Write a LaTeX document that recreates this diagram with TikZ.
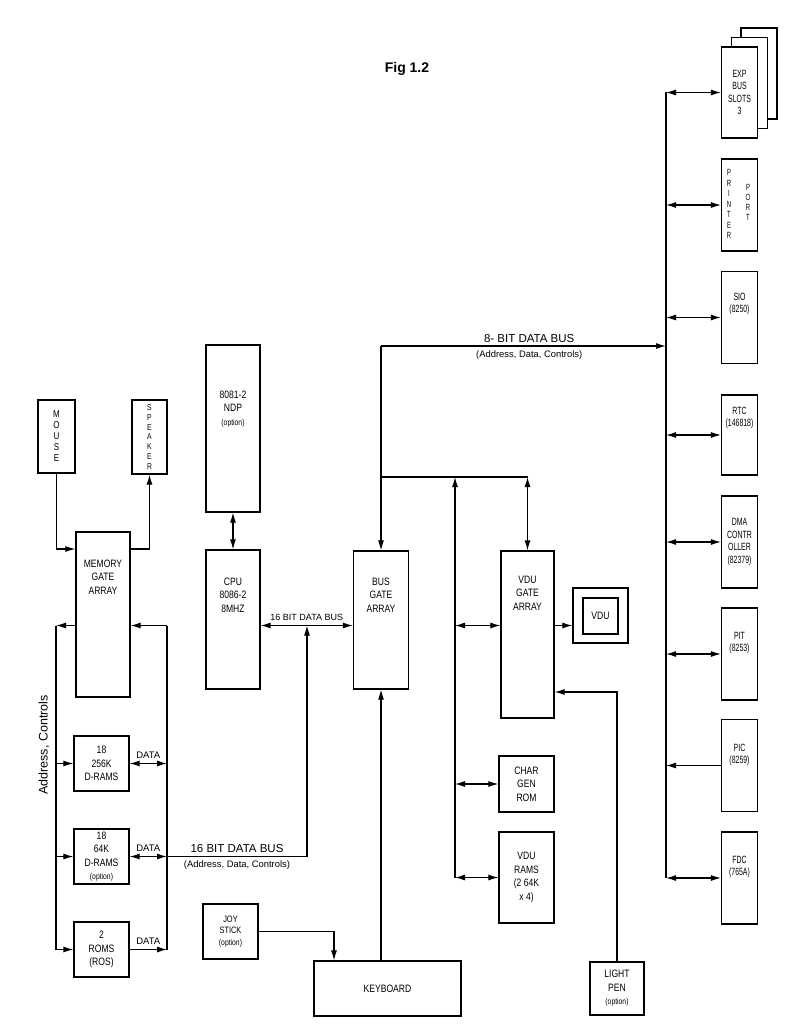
\documentclass[tikz,border=0pt]{standalone}
\usepackage{fontspec}
\setmainfont{Liberation Sans}
\newfontfamily\cnd{Liberation Sans}[FakeStretch=0.8]
\newfontfamily\cndn{Liberation Sans}[FakeStretch=0.66]
\newcommand{\optf}{\fontsize{8.5}{10}\selectfont}
\usetikzlibrary{arrows.meta,positioning}
\begin{document}
\begin{tikzpicture}[x=1pt,y=-1pt,line width=1.1pt,>={Latex[length=10pt,width=6pt]},
  box/.style 2 args={draw,line width=1.3pt,inner sep=0pt,minimum width=#1pt,minimum height=#2pt,align=center,font=\cnd\fontsize{10.7}{13.5}\selectfont},
  rbox/.style={box={36}{92},font=\cndn\fontsize{10.5}{12.5}\selectfont},
  txt/.style={align=center,inner sep=0pt,font=\cnd\fontsize{10.7}{13.5}\selectfont},
  rtxt/.style={align=center,inner sep=0pt,font=\cndn\fontsize{10.5}{12.5}\selectfont},
  busl/.style={inner sep=0pt,font=\fontsize{11.5}{13}\selectfont},
  subl/.style={inner sep=0pt,font=\fontsize{9.4}{11}\selectfont},
  dat/.style={inner sep=0pt,font=\fontsize{9.5}{11}\selectfont}]
\fill[white] (0,0) rectangle (800,1027);
\node[font=\bfseries\fontsize{14}{16}\selectfont] (title) at (407,69) {Fig 1.2};
% memory side
\node[box={37}{73},font=\cnd\fontsize{10}{11}\selectfont] (mouse) at (56.5,436.5) {M\\O\\U\\S\\E};
\node[box={35}{74},font=\cnd\fontsize{8.5}{9.7}\selectfont] (speaker) at (149.5,437) {S\\P\\E\\A\\K\\E\\R};
\node[box={54}{165}] (mga) at (103,614.5) {};
\node[txt] (mga-t) at (103,577) {MEMORY\\GATE\\ARRAY};
\node[box={55}{55}] (d256) at (101.5,763.5) {18\\256K\\D-RAMS};
\node[box={55}{55}] (d64) at (101.5,856.5) {18\\64K\\D-RAMS\\{\optf (option)}};
\node[box={55}{55}] (roms) at (101.5,949.5) {2\\ROMS\\(ROS)};
\node[rotate=90,font=\fontsize{12.5}{14}\selectfont] (addr) at (44,745) {Address, Controls};
% cpu and gate arrays
\node[box={54}{167}] (ndp) at (233,428.5) {};
\node[txt] (ndp-t) at (233,409) {8081-2\\NDP\\{\optf (option)}};
\node[box={54}{139}] (cpu) at (233,619.5) {};
\node[txt] (cpu-t) at (233,595) {CPU\\8086-2\\8MHZ};
\node[box={55}{138}] (bga) at (381,620) {};
\node[txt] (bga-t) at (381,595) {BUS\\GATE\\ARRAY};
\node[box={53}{167}] (vga) at (527.5,634.5) {};
\node[txt] (vga-t) at (527.5,593) {VDU\\GATE\\ARRAY};
\node[box={55}{55}] (vdu) at (600.5,615.5) {};
\node[box={35}{36}] (vdu-s) at (600.5,616) {VDU};
\node[box={55}{56}] (cgr) at (526.5,784) {CHAR\\GEN\\ROM};
\node[box={55}{91}] (vram) at (526.5,877.5) {VDU\\RAMS\\(2 64K\\x 4)};
\node[box={147}{55}] (kbd) at (387.5,988.5) {KEYBOARD};
\node[box={55}{55},font=\cnd\fontsize{9.3}{11.5}\selectfont] (joy) at (230.5,931.5) {JOY\\STICK\\{\optf (option)}};
\node[box={54}{53}] (lpen) at (617,988.5) {LIGHT\\PEN\\{\optf (option)}};
% i/o column
\node[box={36}{91},fill=white] (exp3) at (759,73.5) {};
\node[box={36}{91},fill=white] (exp2) at (749.5,83) {};
\node[rbox,minimum height=91pt,fill=white] (exp) at (739.5,92.5) {EXP\\BUS\\SLOTS\\3};
\node[rbox] (prn) at (739.5,205) {};
\node[rtxt,font=\cndn\fontsize{9}{10.5}\selectfont] (prn-a) at (729,204) {P\\R\\I\\N\\T\\E\\R};
\node[rtxt,font=\cndn\fontsize{9}{10}\selectfont] (prn-b) at (748,202) {P\\O\\R\\T};
\node[rbox] (sio) at (739.5,317.5) {};
\node[rtxt] (sio-t) at (739.5,304) {SIO\\(8250)};
\node[rbox,minimum height=80pt] (rtc) at (739.5,435) {};
\node[rtxt] (rtc-t) at (739.5,418) {RTC\\(146818)};
\node[rbox] (dma) at (739.5,542) {DMA\\CONTR\\OLLER\\(82379)};
\node[rbox] (pit) at (739.5,654) {};
\node[rtxt] (pit-t) at (739.5,643) {PIT\\(8253)};
\node[rbox] (pic) at (739.5,765.5) {};
\node[rtxt] (pic-t) at (739.5,755) {PIC\\(8259)};
\node[rbox] (fdc) at (739.5,878) {};
\node[rtxt] (fdc-t) at (739.5,867) {FDC\\(765A)};
% bus lines
\coordinate (rb) at (666,0);
\coordinate (row) at (0,625.5);
\coordinate (b8) at (381,346);
\coordinate (jn) at (381,477);
\coordinate (vb) at (455,477);
\coordinate (cb) at (307,0);
\coordinate (jk) at (334,0);
\coordinate (lp) at (0,692);
\coordinate (ml) at (56,0);
\coordinate (mr) at (167,0);
\coordinate (mrw) at (0,549);
\draw (rb |- exp) -- (rb |- fdc);
\foreach \n in {exp,prn,sio,rtc,dma,pit,fdc} \draw[<->] (rb |- \n) -- (\n.west);
\draw[->] (pic.west) -- (rb |- pic);
\draw[->] (b8) -- (rb |- b8) node[pos=0.52,above=3pt,busl] (b8-l) {8- BIT DATA BUS} node[pos=0.52,below=4pt,subl] (b8-s) {(Address, Data, Controls)};
\draw[->] (b8) -- (bga.north);
\draw (jn) -- (jn -| vga.north);
\draw[<->] (jn -| vga.north) -- (vga.north);
\draw[->] (vb |- vram) -- (vb);
\draw[<->] (vb |- row) -- (vga.west |- row);
\draw[->] (vga.east |- row) -- (vdu.west |- row);
\draw[<->] (vb |- cgr) -- (cgr.west);
\draw[<->] (vb |- vram) -- (vram.west);
\draw[->] (lpen.north) |- (vga.east |- lp);
\draw[<->] (ndp.south) -- (cpu.north);
\draw[<->] (cpu.east |- row) -- (bga.west |- row) node[midway,above=4pt,inner sep=0pt,font=\fontsize{9}{11}\selectfont] (c16-l) {16 BIT DATA BUS};
\draw[->] (mr |- d64) -- (cb |- d64) node[midway,above=3pt,busl] (m16-l) {16 BIT DATA BUS} node[midway,below=4pt,subl] (m16-s) {(Address, Data, Controls)} -- (cb |- row);
\draw[->] (bga.south |- kbd.north) -- (bga.south);
\draw[->] (joy.east) -| (jk |- kbd.north);
% memory buses
\draw[->] (mouse.south) |- (mga.west |- mrw);
\draw[->] (mga.east |- mrw) -| (speaker.south);
\draw[->] (mga.west |- row) -- (ml |- row);
\draw (ml |- row) -- (ml |- roms);
\draw[->] (mr |- row) -- (mga.east |- row);
\draw (mr |- row) -- (mr |- roms);
\foreach \n in {d256,d64,roms} \draw[->] (ml |- \n) -- (\n.west);
\draw[<->] (d256.east) -- (mr |- d256) node[midway,above=4pt,dat] {DATA};
\draw[<->] (d64.east) -- (mr |- d64) node[midway,above=4pt,dat] {DATA};
\draw[->] (roms.east) -- (mr |- roms) node[midway,above=4pt,dat] {DATA};
\end{tikzpicture}
\end{document}
